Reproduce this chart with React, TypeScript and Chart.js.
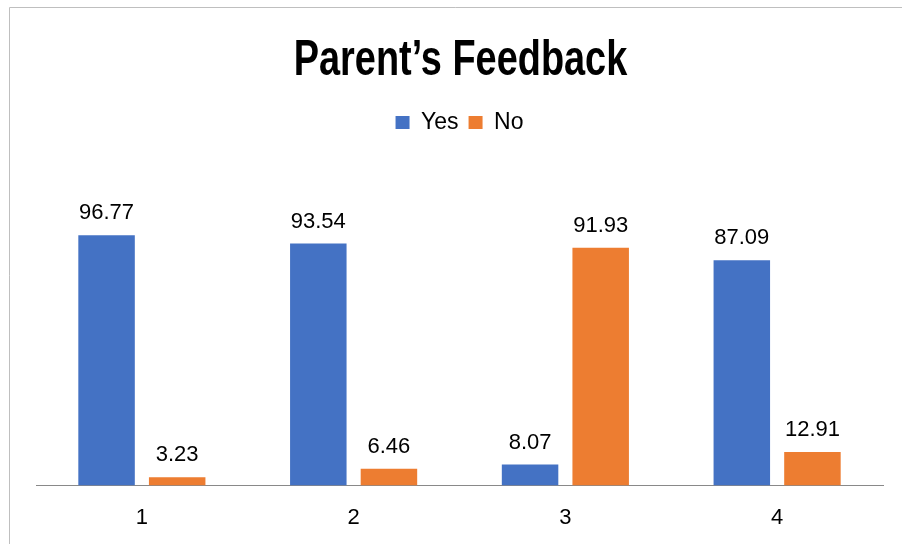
import React, { useEffect, useRef } from "react";
import { Chart, registerables } from "chart.js";

Chart.register(...registerables);

const chartTitle = "Parent’s Feedback";
const categories = ["1", "2", "3", "4"];
const seriesNames = ["Yes", "No"];
const yesValues = [96.77, 93.54, 8.07, 87.09];
const noValues = [3.23, 6.46, 91.93, 12.91];
const seriesColors = ["#4472C4", "#ED7D31"];
const axisMax = 132;

const frame = {
  id: "frame",
  beforeDraw(chart: any) {
    const ctx = chart.ctx;
    ctx.save();
    ctx.fillStyle = "#ffffff";
    ctx.fillRect(0, 0, chart.width, chart.height);
    ctx.strokeStyle = "#bfbfbf";
    ctx.lineWidth = 1;
    ctx.beginPath();
    ctx.moveTo(9.5, chart.height);
    ctx.lineTo(9.5, 7.5);
    ctx.lineTo(chart.width, 7.5);
    ctx.stroke();
    ctx.restore();
  },
};

const condensedTitle = {
  id: "condensedTitle",
  afterDraw(chart: any) {
    const ctx = chart.ctx;
    ctx.save();
    ctx.font = 'bold 50px "Liberation Sans", Arial, sans-serif';
    ctx.fillStyle = "#000000";
    ctx.textAlign = "center";
    ctx.textBaseline = "alphabetic";
    ctx.translate(460.5, 74.5);
    ctx.scale(0.758, 1);
    ctx.fillText(chartTitle, 0, 0);
    ctx.restore();
  },
};

const valueLabels = {
  id: "valueLabels",
  afterDatasetsDraw(chart: any) {
    const ctx = chart.ctx;
    ctx.save();
    ctx.font = '22px "Liberation Sans", Arial, sans-serif';
    ctx.fillStyle = "#000000";
    ctx.textAlign = "center";
    ctx.textBaseline = "middle";
    chart.data.datasets.forEach((ds: any, i: number) => {
      const meta = chart.getDatasetMeta(i);
      meta.data.forEach((bar: any, j: number) => {
        ctx.fillText(String(ds.data[j]), bar.x, bar.y - 22);
      });
    });
    ctx.restore();
  },
};

export default function App() {
  const ref = useRef<HTMLCanvasElement | null>(null);

  useEffect(() => {
    document.body.style.margin = "0";
    const canvas = ref.current;
    if (!canvas) return;
    const chart = new Chart(canvas, {
      type: "bar",
      data: {
        labels: categories,
        datasets: [
          {
            label: seriesNames[0],
            data: yesValues,
            backgroundColor: seriesColors[0],
            categoryPercentage: 0.667,
            barPercentage: 0.8,
          },
          {
            label: seriesNames[1],
            data: noValues,
            backgroundColor: seriesColors[1],
            categoryPercentage: 0.667,
            barPercentage: 0.8,
          },
        ],
      },
      options: {
        animation: false,
        responsive: false,
        maintainAspectRatio: false,
        devicePixelRatio: 1,
        layout: { padding: { left: 36, right: 19, top: 101, bottom: 0.5 } },
        plugins: {
          title: { display: false },
          legend: {
            display: true,
            position: "top",
            labels: {
              color: "#000000",
              font: { family: '"Liberation Sans", Arial, sans-serif', size: 23 },
              boxWidth: 14,
              boxHeight: 13,
              padding: 10,
            },
          },
          tooltip: { enabled: false },
        },
        scales: {
          x: {
            grid: { display: false, drawTicks: true, tickLength: 7 },
            border: { display: true, color: "#898989", width: 1 },
            ticks: {
              color: "#000000",
              font: { family: '"Liberation Sans", Arial, sans-serif', size: 22 },
              padding: 12.3,
            },
          },
          y: {
            display: false,
            min: 0,
            max: axisMax,
          },
        },
      },
      plugins: [frame, valueLabels, condensedTitle],
    });
    return () => chart.destroy();
  }, []);

  return (
    <div style={{ width: 902, height: 544, position: "relative" }}>
      <canvas ref={ref} width={902} height={544} style={{ display: "block", width: 902, height: 544 }} />
    </div>
  );
}
